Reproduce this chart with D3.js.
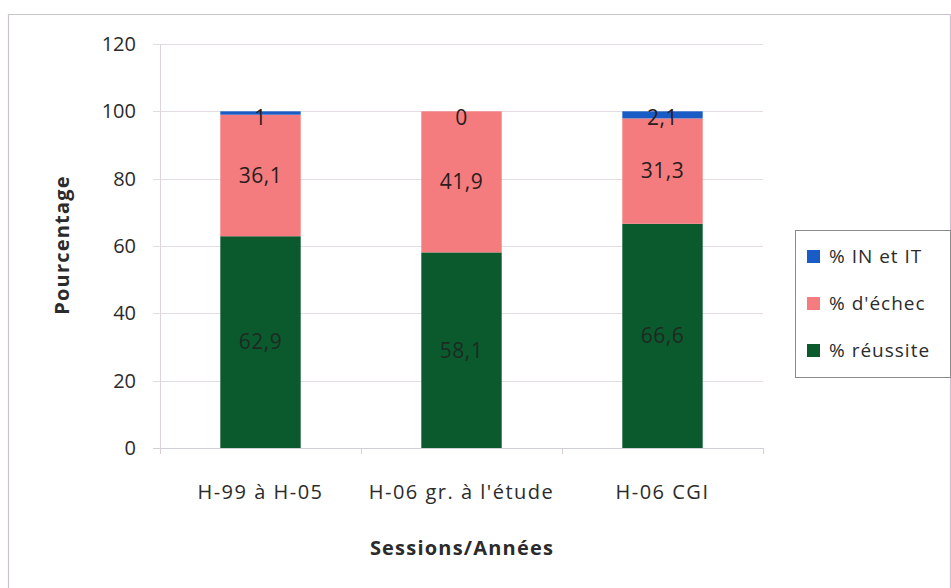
<!DOCTYPE html>
<html>
<head>
<meta charset="utf-8">
<script src="https://cdn.jsdelivr.net/npm/d3@7/dist/d3.min.js"></script>
<style>
  html, body { margin: 0; padding: 0; background: #fff; }
  svg { display: block; }
  text { font-family: "Open Sans", "Noto Sans", sans-serif; }
</style>
</head>
<body>
<svg id="chart" width="951" height="588"></svg>
<script>
// Sessions compared
const categories = ["H-99 à H-05", "H-06 gr. à l'étude", "H-06 CGI"];
// Stacked shares (bottom to top)
const reussite = [62.9, 58.1, 66.6];
const echec = [36.1, 41.9, 31.3];
const inIt = [1, 0, 2.1];
const seriesNames = ["% réussite", "% d'échec", "% IN et IT"];
const seriesColors = ["#0b5a2e", "#f47c7e", "#1a5cc6"];
const yTicks = [0, 20, 40, 60, 80, 100, 120];

const svg = d3.select("#chart");
const W = 951, H = 588;
const plot = { left: 160, right: 763, top: 44, bottom: 448 };

// Outer frame (left, top, right edges)
svg.append("path")
  .attr("d", `M8.5,${H} V14.5 H${W - 0.5} V${H}`)
  .attr("fill", "none")
  .attr("stroke", "#c9c2cc")
  .attr("stroke-width", 1.2);

const x = d3.scaleBand()
  .domain(categories)
  .range([plot.left, plot.right])
  .paddingInner(0.6)
  .paddingOuter(0.3);

const y = d3.scaleLinear().domain([0, 120]).range([plot.bottom, plot.top]);

// Gridlines
svg.append("g")
  .selectAll("line")
  .data(yTicks)
  .join("line")
  .attr("x1", plot.left - 7)
  .attr("x2", plot.right)
  .attr("y1", d => Math.round(y(d)) + 0.5)
  .attr("y2", d => Math.round(y(d)) + 0.5)
  .attr("stroke", d => d === 0 ? "#cfcfd6" : "#e3dde3")
  .attr("stroke-width", 1);

// Y axis line
svg.append("line")
  .attr("x1", plot.left + 0.5).attr("x2", plot.left + 0.5)
  .attr("y1", plot.top).attr("y2", plot.bottom)
  .attr("stroke", "#dcd6dc");

// Y tick labels
svg.append("g")
  .selectAll("text")
  .data(yTicks)
  .join("text")
  .attr("x", 136)
  .attr("y", d => y(d))
  .attr("dy", "0.35em")
  .attr("text-anchor", "end")
  .attr("font-size", 20)
  .attr("fill", "#2b2b2b")
  .text(d => d);

// Category separator ticks on the x axis
const sepX = [plot.left, ...categories.slice(1).map(c => x(c) - x.step() * x.paddingInner() / 2), plot.right];
svg.append("g")
  .selectAll("line")
  .data(sepX)
  .join("line")
  .attr("x1", d => Math.round(d) + 0.5)
  .attr("x2", d => Math.round(d) + 0.5)
  .attr("y1", plot.bottom)
  .attr("y2", plot.bottom + 6)
  .attr("stroke", "#d6d0d6");

// Stacked bars
const rows = categories.map((c, i) => ({ cat: c, r: reussite[i], e: echec[i], t: inIt[i] }));
const stack = d3.stack().keys(["r", "e", "t"])(rows);

const layers = svg.append("g")
  .selectAll("g")
  .data(stack)
  .join("g")
  .attr("fill", (d, i) => seriesColors[i]);

layers.selectAll("rect")
  .data(d => d)
  .join("rect")
  .attr("x", d => x(d.data.cat))
  .attr("width", x.bandwidth())
  .attr("y", d => y(d[1]))
  .attr("height", d => Math.max(0, y(d[0]) - y(d[1])));

// Value labels
const labelGroup = svg.append("g");
stack.forEach((layer, li) => {
  layer.forEach(d => {
    const value = d[1] - d[0];
    let cy = (y(d[0]) + y(d[1])) / 2;
    if (li === 2) cy = y(d[1]) + 6;
    labelGroup.append("text")
      .attr("x", x(d.data.cat) + x.bandwidth() / 2)
      .attr("y", cy)
      .attr("dy", "0.35em")
      .attr("text-anchor", "middle")
      .attr("font-size", 21)
      .attr("letter-spacing", 0.5)
      .attr("fill", li === 0 ? "#1d2a22" : "#2a1d1d")
      .text(String(value.toFixed(1)).replace(/\.0$/, "").replace(".", ","));
  });
});

// X category labels
svg.append("g")
  .selectAll("text")
  .data(categories)
  .join("text")
  .attr("x", d => x(d) + x.bandwidth() / 2)
  .attr("y", 499)
  .attr("text-anchor", "middle")
  .attr("font-size", 20)
  .attr("letter-spacing", 1.5)
  .attr("fill", "#2b2b2b")
  .text(d => d);

// Axis titles
svg.append("text")
  .attr("x", 462)
  .attr("y", 555)
  .attr("text-anchor", "middle")
  .attr("font-size", 20)
  .attr("font-weight", "bold")
  .attr("letter-spacing", 1.2)
  .attr("fill", "#2b2b2b")
  .text("Sessions/Années");

svg.append("text")
  .attr("transform", "translate(69,245) rotate(-90)")
  .attr("text-anchor", "middle")
  .attr("font-size", 20)
  .attr("font-weight", "bold")
  .attr("letter-spacing", 1.2)
  .attr("fill", "#2b2b2b")
  .text("Pourcentage");

// Legend
const legend = svg.append("g");
legend.append("rect")
  .attr("x", 795.5).attr("y", 230.5)
  .attr("width", 155).attr("height", 147)
  .attr("fill", "#fff")
  .attr("stroke", "#8a8a8a");

const legendOrder = [2, 1, 0];
legendOrder.forEach((si, k) => {
  const ly = 256 + k * 47;
  legend.append("rect")
    .attr("x", 807).attr("y", ly - 6)
    .attr("width", 13).attr("height", 13)
    .attr("fill", seriesColors[si]);
  legend.append("text")
    .attr("x", 829).attr("y", ly)
    .attr("dy", "0.35em")
    .attr("font-size", 19)
    .attr("letter-spacing", 1)
    .attr("fill", "#2b2b2b")
    .text(seriesNames[si]);
});
</script>
</body>
</html>
